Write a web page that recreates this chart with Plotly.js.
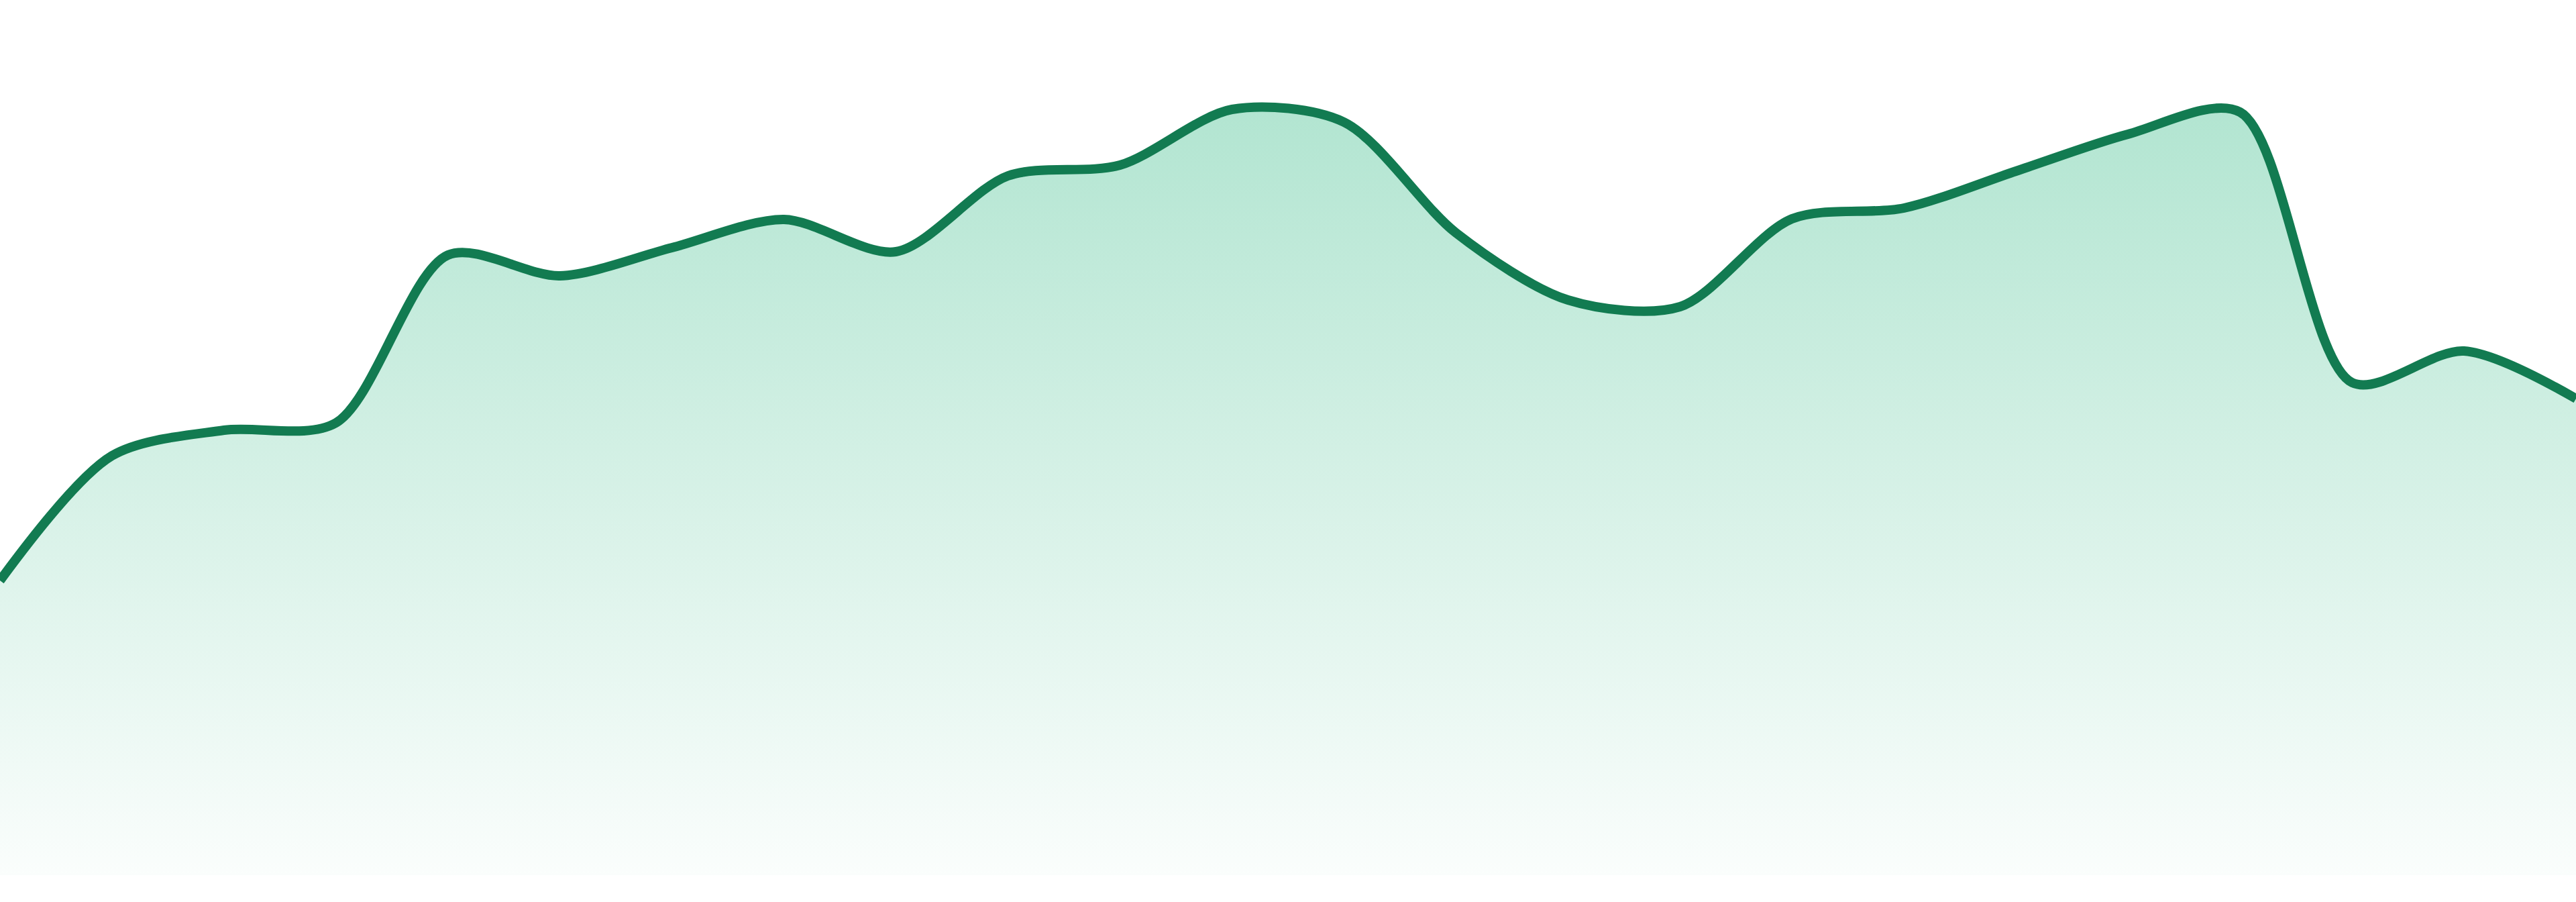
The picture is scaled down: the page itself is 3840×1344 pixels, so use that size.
<!DOCTYPE html>
<html>
<head>
<meta charset="utf-8">
<script src="https://cdn.plot.ly/plotly-3.0.1.min.js"></script>
<style>
  html, body {margin: 0; padding: 0; background: #fff;}
  #graph {width: 3840px; height: 1344px;}
</style>
</head>
<body>
<div id="graph"></div>
<script>
// Sparkline values
const days = [1, 2, 3, 4, 5, 6, 7, 8, 9, 10, 11, 12, 13, 14, 15, 16, 17, 18, 19, 20, 21, 22, 23, 24];
const values = [43.9, 62.5, 66.3, 67.4, 92.4, 89.3, 93.5, 97.7, 92.9, 104.2, 105.8, 114.1,
                 112.2, 95.7, 85.7, 84.7, 97.8, 99.4, 104.9, 110.4, 113.7, 73.4, 78.1, 71.0];
const y_max = 130.4;

const line_color = "#127b51";
const fill_top = "rgba(178,229,209,1)";
const fill_bottom = "rgba(178,229,209,0.06)";

const graph_traces = [{
    x: days, y: values, mode: "lines", type: "scatter",
    line: {color: line_color, width: 14, shape: "spline", smoothing: 0.85},
    fill: "tozeroy",
    fillgradient: {type: "vertical", start: 0, stop: Math.max(...values), colorscale: [[0, fill_bottom], [1, fill_top]]},
    hoverinfo: "skip"
}];

const axis_off = {visible: false, showgrid: false, zeroline: false, showticklabels: false, fixedrange: true};
const graph_layout = {
    width: 3840, height: 1344,
    margin: {t: 0, l: 0, r: 0, b: 40, pad: 0},
    paper_bgcolor: "#ffffff", plot_bgcolor: "#ffffff",
    showlegend: false,
    xaxis: {...axis_off, range: [days[0], days[days.length - 1]]},
    yaxis: {...axis_off, range: [0, y_max]}
};
const graph_config = {displayModeBar: false, staticPlot: true};

Plotly.newPlot("graph", graph_traces, graph_layout, graph_config);
</script>
</body>
</html>
